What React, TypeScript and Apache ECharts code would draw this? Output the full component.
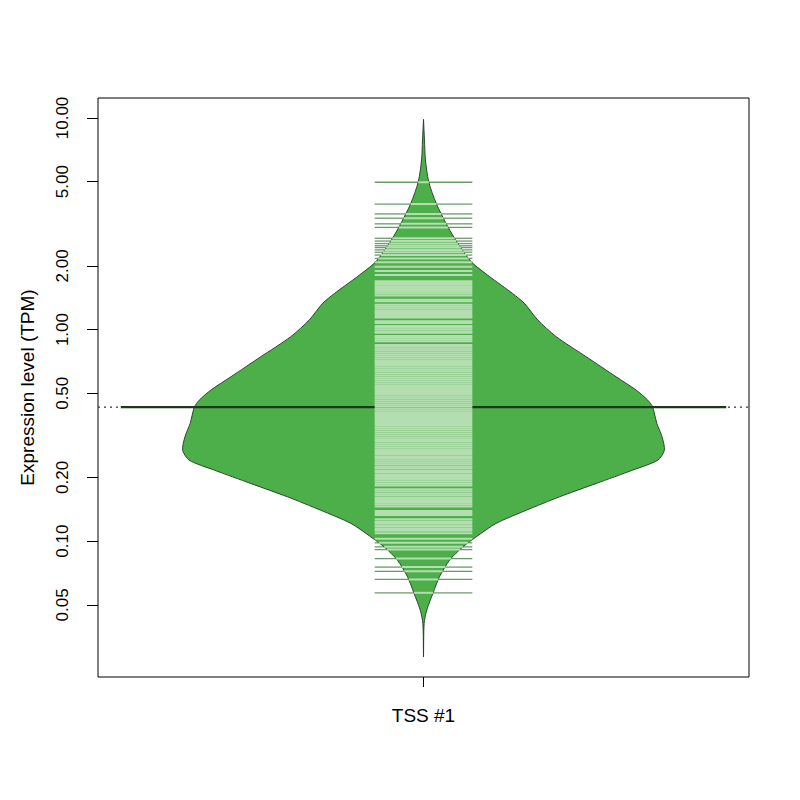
import React, { useEffect, useRef } from "react";
import * as echarts from "echarts";

// ---- data ----
const categories = ["TSS #1"];
const tickValues = [0.05, 0.1, 0.2, 0.5, 1, 2, 5, 10];
const tickLabels = ["0.05", "0.10", "0.20", "0.50", "1.00", "2.00", "5.00", "10.00"];
const axisMinTPM = 0.0228;
const axisMaxTPM = 12.43;
const medianValue = 0.43;

// bean outline: level (TPM) and half-width (x units, plot half-width = 1)
const densityTPM = [9.86, 7.87, 6.33, 5.0, 3.95, 3.06, 2.56, 2.09, 1.78, 1.48, 1.33, 1.11, 0.925, 0.744, 0.598, 0.518, 0.464, 0.43, 0.36, 0.311, 0.269, 0.2415, 0.2167, 0.1874, 0.162, 0.14, 0.1213, 0.1048, 0.094, 0.0813, 0.0678, 0.0566, 0.0472, 0.0408, 0.0284];
const densityWidth = [0, 0.003, 0.006, 0.016, 0.039, 0.075, 0.105, 0.147, 0.203, 0.274, 0.31, 0.351, 0.408, 0.5, 0.592, 0.653, 0.689, 0.704, 0.717, 0.733, 0.74, 0.72, 0.643, 0.531, 0.418, 0.316, 0.223, 0.162, 0.121, 0.08, 0.049, 0.029, 0.01, 0.002, 0];

// individual observations (bean lines)
const beanTop = [4.97, 3.92, 3.52, 3.36, 3.16, 3.04, 2.7, 2.62, 2.55, 2.49, 2.44, 2.38, 2.32, 2.25, 2.17, 2.08, 1.98, 1.89, 1.81];
const beanMiddle = [1.69, 1.66, 1.63, 1.6, 1.57, 1.54, 1.51, 1.48, 1.45, 1.385, 1.36, 1.31, 1.285, 1.26, 1.235, 1.21, 1.185, 1.16, 1.14, 1.095, 1.075, 1.04, 1.02, 1.0, 0.98, 0.965, 0.932, 0.915, 0.897, 0.88, 0.846, 0.83, 0.812, 0.796, 0.78, 0.763, 0.748, 0.732, 0.717, 0.702, 0.688, 0.674, 0.66, 0.646, 0.633, 0.62, 0.607, 0.594, 0.582, 0.57, 0.558, 0.546, 0.535, 0.524, 0.513, 0.502, 0.492, 0.482, 0.472, 0.462, 0.452, 0.443, 0.434, 0.425, 0.416, 0.407, 0.399, 0.39, 0.382, 0.374, 0.366, 0.358, 0.351, 0.344, 0.337, 0.33, 0.323, 0.316, 0.309, 0.303, 0.297, 0.29, 0.284, 0.278, 0.272, 0.267, 0.261, 0.256, 0.25, 0.245, 0.24, 0.235, 0.23, 0.225, 0.221, 0.216, 0.212, 0.207, 0.203, 0.199, 0.195, 0.191, 0.187, 0.183, 0.176, 0.172, 0.168, 0.165, 0.161, 0.158, 0.155, 0.152, 0.149, 0.146, 0.139, 0.136, 0.133, 0.127, 0.124, 0.122, 0.119, 0.117, 0.114, 0.112, 0.109];
const beanBottom = [0.1027, 0.0982, 0.094, 0.0912, 0.0827, 0.0754, 0.072, 0.0659, 0.057];

// ---- styles ----
const FILL = "#4daf4a";
const BORDER = "#1f3a1f";
const LINE_IN = "#b3deb0";
const LINE_OUT = "#3a7a38";
const MEDIAN = "#1b3a1b";
const FONT = "'Liberation Sans', Arial, Helvetica, sans-serif";
const BEANLINE_HALF = 0.15;
const MEDIAN_HALF = 0.93;

const densityLog = densityTPM.map((v) => Math.log10(v));
function widthAt(lv: number): number {
  for (let i = 0; i < densityLog.length - 1; i++) {
    const a = densityLog[i];
    const b = densityLog[i + 1];
    if (lv <= a && lv >= b) {
      const t = (a - lv) / (a - b);
      return densityWidth[i] + t * (densityWidth[i + 1] - densityWidth[i]);
    }
  }
  return 0;
}

export default function App() {
  const ref = useRef<HTMLDivElement>(null);
  useEffect(() => {
    if (!ref.current) return;
    const chart = echarts.init(ref.current, null, { renderer: "svg" });
    const beanValues = [...beanTop, ...beanMiddle, ...beanBottom];
    const tickLogs = tickValues.map((v) => Math.log10(v));
    const labelFor = (v: number) => {
      let best = 0;
      for (let i = 0; i < tickLogs.length; i++) {
        if (Math.abs(tickLogs[i] - v) < Math.abs(tickLogs[best] - v)) best = i;
      }
      return tickLabels[best];
    };

    const option: any = {
      animation: false,
      backgroundColor: "#ffffff",
      grid: {
        left: 98,
        top: 98,
        right: 51,
        bottom: 123,
        show: true,
        borderColor: "#000",
        borderWidth: 1,
        backgroundColor: "transparent",
        outerBoundsMode: "none",
      },
      xAxis: [
        {
          type: "category",
          data: categories,
          boundaryGap: true,
          position: "bottom",
          axisLine: { show: false, onZero: false },
          axisTick: { show: true, alignWithLabel: true, length: 10, lineStyle: { color: "#000" } },
          axisLabel: { fontSize: 19, color: "#000", fontFamily: FONT, margin: 29 },
          splitLine: { show: false },
        },
        { type: "value", min: -1, max: 1, show: false, axisLine: { onZero: false } },
      ],
      yAxis: {
        type: "value",
        position: "left",
        min: Math.log10(axisMinTPM),
        max: Math.log10(axisMaxTPM),
        axisLine: { show: false, onZero: false },
        splitLine: { show: false },
        axisTick: { show: true, length: 11, customValues: tickLogs, lineStyle: { color: "#000" } },
        axisLabel: {
          customValues: tickLogs,
          rotate: 90,
          margin: 27,
          fontSize: 17,
          color: "#000",
          fontFamily: FONT,
          formatter: (v: number) => labelFor(v),
        },
        name: "Expression level (TPM)",
        nameLocation: "middle",
        nameGap: 61,
        nameTextStyle: { fontSize: 19, color: "#000", fontFamily: FONT },
      },
      series: [
        {
          type: "custom",
          xAxisIndex: 1,
          yAxisIndex: 0,
          z: 1,
          silent: true,
          data: [0],
          renderItem: (params: any, api: any) => {
            const pts: number[][] = [];
            for (let i = densityTPM.length - 1; i >= 0; i--) {
              pts.push(api.coord([densityWidth[i], densityLog[i]]));
            }
            for (let i = 0; i < densityTPM.length; i++) {
              pts.push(api.coord([-densityWidth[i], densityLog[i]]));
            }
            return {
              type: "polygon",
              shape: { points: pts, smooth: 0.25 },
              style: { fill: FILL, stroke: BORDER, lineWidth: 0.9 },
            };
          },
        },
        {
          type: "custom",
          xAxisIndex: 1,
          yAxisIndex: 0,
          z: 2,
          silent: true,
          data: [Math.log10(medianValue)],
          renderItem: (params: any, api: any) => {
            const lv = api.value(0);
            const a = api.coord([-1, lv]);
            const b = api.coord([1, lv]);
            const c = api.coord([-MEDIAN_HALF, lv]);
            const d = api.coord([MEDIAN_HALF, lv]);
            return {
              type: "group",
              children: [
                {
                  type: "line",
                  shape: { x1: a[0], y1: a[1], x2: b[0], y2: b[1] },
                  style: { stroke: "#333", lineWidth: 1.2, lineDash: [2, 4] },
                },
                {
                  type: "line",
                  shape: { x1: c[0], y1: c[1], x2: d[0], y2: d[1] },
                  style: { stroke: MEDIAN, lineWidth: 2.4 },
                },
              ],
            };
          },
        },
        {
          type: "custom",
          xAxisIndex: 1,
          yAxisIndex: 0,
          z: 3,
          silent: true,
          data: beanValues.map((v) => [0, Math.log10(v)]),
          renderItem: (params: any, api: any) => {
            const lv = api.value(1);
            const w = widthAt(lv);
            const inner = Math.min(w, BEANLINE_HALF);
            const children: any[] = [];
            const p1 = api.coord([-inner, lv]);
            const p2 = api.coord([inner, lv]);
            if (inner > 0) {
              children.push({
                type: "line",
                shape: { x1: p1[0], y1: p1[1], x2: p2[0], y2: p2[1] },
                style: { stroke: LINE_IN, lineWidth: 2 },
              });
            }
            if (w < BEANLINE_HALF) {
              const l0 = api.coord([-BEANLINE_HALF, lv]);
              const r0 = api.coord([BEANLINE_HALF, lv]);
              children.push({
                type: "line",
                shape: { x1: l0[0], y1: l0[1], x2: p1[0], y2: p1[1] },
                style: { stroke: LINE_OUT, lineWidth: 1.3, opacity: 0.75 },
              });
              children.push({
                type: "line",
                shape: { x1: p2[0], y1: p2[1], x2: r0[0], y2: r0[1] },
                style: { stroke: LINE_OUT, lineWidth: 1.3, opacity: 0.75 },
              });
            }
            return { type: "group", children };
          },
        },
      ],
    };
    chart.setOption(option);
    return () => chart.dispose();
  }, []);
  return (
    <div
      ref={ref}
      style={{ position: "fixed", left: 0, top: 0, width: 800, height: 800, background: "#fff" }}
    />
  );
}
